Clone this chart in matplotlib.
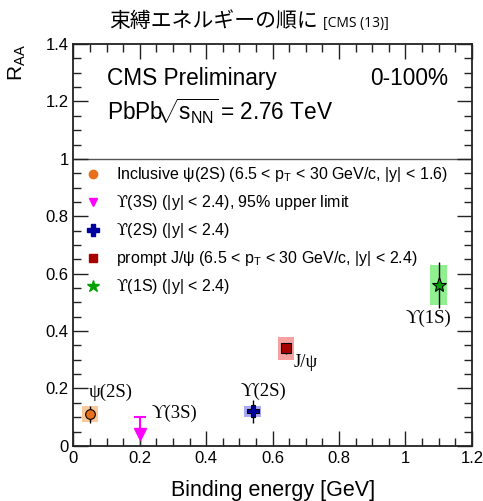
import matplotlib
matplotlib.use("Agg")
import matplotlib.pyplot as plt
from matplotlib.lines import Line2D
from matplotlib.ticker import MultipleLocator

plt.rcParams['font.family'] = ['Liberation Sans', 'DejaVu Sans']
plt.rcParams['mathtext.fontset'] = 'custom'
plt.rcParams['mathtext.rm'] = 'Liberation Sans'
plt.rcParams['mathtext.it'] = 'Liberation Sans:italic'
plt.rcParams['mathtext.bf'] = 'Liberation Sans:bold'
plt.rcParams['mathtext.sf'] = 'DejaVu Serif'

# ---------------- data ----------------
states = ["psi2S", "Y2S", "Jpsi", "Y1S"]
binding = [0.05, 0.54, 0.64, 1.10]
raa = [0.11, 0.12, 0.34, 0.56]
stat_err = [0.03, 0.04, 0.02, 0.08]
syst_err = [0.028, 0.02, 0.04, 0.07]
point_labels = ["ψ(2S)", "ϒ(2S)", "J/ψ", "ϒ(1S)"]

y3s_binding = 0.20
y3s_limit = 0.10
y3s_arrow_tip = 0.042

legend_labels = [
    r"Inclusive ψ(2S) (6.5 < p$_{\mathrm{T}}$ < 30 GeV/c, |y| < 1.6)",
    r"$\mathsf{ϒ}$(3S) (|y| < 2.4), 95% upper limit",
    r"$\mathsf{ϒ}$(2S) (|y| < 2.4)",
    r"prompt J/ψ (6.5 < p$_{\mathrm{T}}$ < 30 GeV/c, |y| < 2.4)",
    r"$\mathsf{ϒ}$(1S) (|y| < 2.4)",
]

# ---------------- styles ----------------
marker_colors = {"psi2S": "#e8701a", "Y2S": "#0000a0", "Jpsi": "#a80000", "Y1S": "#00a000"}
box_colors = {"psi2S": "#f9c89a", "Y2S": "#a8a8f4", "Jpsi": "#f8a0a0", "Y1S": "#90f090"}
markers = {"psi2S": "o", "Y2S": "P", "Jpsi": "s", "Y1S": "*"}
msizes = {"psi2S": 7, "Y2S": 9, "Jpsi": 7, "Y1S": 11}
label_pos = {"psi2S": (-0.005, 0.186, 'left'), "Y2S": (-0.037, 0.189, 'left'),
             "Jpsi": (0.022, 0.292, 'left'), "Y1S": (-0.101, 0.443, 'left')}
box_width = 0.05
magenta = "#ff00ff"

fig = plt.figure(figsize=(4.83, 5.01), dpi=100)
ax = fig.add_axes([0.152, 0.110, 0.825, 0.802])

ax.axhline(1.0, color="#555555", lw=1.0, zorder=1)

serif = ['Liberation Serif', 'DejaVu Serif']
for s, x, y, st, sy, lab in zip(states, binding, raa, stat_err, syst_err, point_labels):
    ax.bar(x, 2 * sy, bottom=y - sy, width=box_width, color=box_colors[s], lw=0, zorder=2)
    ax.errorbar(x, y, yerr=st, fmt=markers[s], color="black", mfc=marker_colors[s],
                mec="black", mew=0.8, ms=msizes[s], elinewidth=1.0, capsize=0, zorder=3)
    dx, ly, ha = label_pos[s]
    ax.text(x + dx, ly, lab, fontsize=13.5, family=serif, ha=ha, va='center')

# Upsilon(3S) upper limit
ax.vlines(y3s_binding, 0, y3s_arrow_tip, color="#333333", lw=1.0, zorder=3)
ax.vlines(y3s_binding, y3s_arrow_tip, y3s_limit, color=magenta, lw=1.5, zorder=3)
ax.hlines(y3s_limit, y3s_binding - 0.018, y3s_binding + 0.018, color=magenta, lw=1.5, zorder=3)
ax.plot([y3s_binding], [y3s_arrow_tip], 'v', color=magenta, ms=8, zorder=4)
ax.text(y3s_binding + 0.036, 0.114, "ϒ(3S)", fontsize=13.5, family=serif, ha='left', va='center')

# legend
handles = [
    Line2D([], [], ls='none', marker='o', color=marker_colors["psi2S"], ms=6),
    Line2D([], [], ls='none', marker='v', color=magenta, ms=6),
    Line2D([], [], ls='none', marker='P', color=marker_colors["Y2S"], ms=8),
    Line2D([], [], ls='none', marker='s', color=marker_colors["Jpsi"], ms=6),
    Line2D([], [], ls='none', marker='*', color=marker_colors["Y1S"], ms=9),
]
leg = ax.legend(handles, legend_labels, loc='upper left', bbox_to_anchor=(0.032, 0.698),
                frameon=False, fontsize=11.5, handlelength=0.9, handletextpad=0.95,
                labelspacing=0.56, borderpad=0, borderaxespad=0)

ax.text(0.10, 1.279, "CMS Preliminary", fontsize=16.3, ha='left', va='center')
ax.text(0.10, 1.164, r"PbPb$\!\!\sqrt{\mathrm{s}_{\mathrm{NN}}}\!$ = 2.76 TeV", fontsize=16.3, ha='left', va='center')
ax.text(1.128, 1.279, "0-100%", fontsize=16.3, ha='right', va='center')

ax.set_xlim(0, 1.2)
ax.set_ylim(0, 1.4)
ax.xaxis.set_major_locator(MultipleLocator(0.2))
ax.xaxis.set_minor_locator(MultipleLocator(0.05))
ax.yaxis.set_major_locator(MultipleLocator(0.2))
ax.yaxis.set_minor_locator(MultipleLocator(0.05))
ax.xaxis.set_major_formatter(matplotlib.ticker.FuncFormatter(lambda v, p: f"{v:g}"))
ax.yaxis.set_major_formatter(matplotlib.ticker.FuncFormatter(lambda v, p: f"{v:g}"))
ax.tick_params(which='both', direction='in', top=True, right=True, labelsize=12, width=1.0, color="#222222")
ax.tick_params(which='major', length=11)
ax.tick_params(which='minor', length=6)
for sp in ax.spines.values():
    sp.set_linewidth(1.3)
    sp.set_color("#222222")

ax.set_xlabel("Binding energy [GeV]", fontsize=15.5)
ax.set_ylabel(r"R$_{\mathrm{AA}}$", fontsize=15, loc='top')
ax.yaxis.set_label_coords(-0.115, 1.0)
ax.xaxis.set_label_coords(0.5, -0.085)

fig.text(0.658, 0.946, "束縛エネルギーの順に", fontsize=15, ha='right', va='baseline',
         family=['Noto Sans CJK JP', 'DejaVu Sans'])
fig.text(0.669, 0.946, "[CMS (13)]", fontsize=10, ha='left', va='baseline',
         family=['Open Sans', 'DejaVu Sans'])

fig.savefig("out.png", dpi=100)
